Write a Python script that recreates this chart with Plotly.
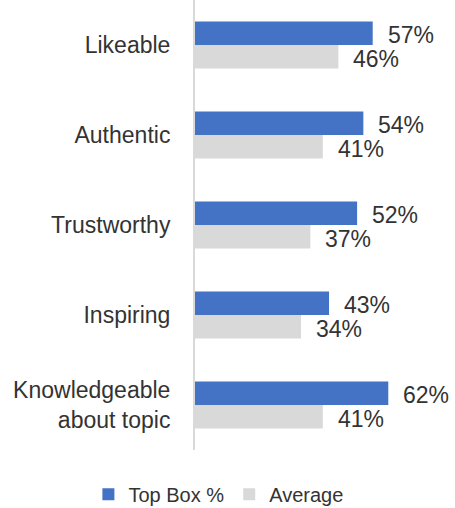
import plotly.graph_objects as go

categories = ["Likeable", "Authentic", "Trustworthy", "Inspiring", "Knowledgeable<br>about topic"]
top_box = [57, 54, 52, 43, 62]
average = [46, 41, 37, 34, 41]
series_names = ["Top Box %", "Average"]
colors = ["#4472C4", "#D9D9D9"]
text_color = "#333333"
font_family = "Liberation Sans, Arial, sans-serif"

fig = go.Figure()
for name, vals, col in zip(series_names, [top_box, average], colors):
    fig.add_trace(go.Bar(
        y=categories, x=vals, name=name, orientation="h",
        marker=dict(color=col, line=dict(width=0)),
    ))

annotations = []
for vals, yshift in zip([top_box, average], [10, -14]):
    for c, v in zip(categories, vals):
        annotations.append(dict(
            x=v, y=c, xref="x", yref="y", text=f"{v}%",
            showarrow=False, xanchor="left", yanchor="middle",
            xshift=13, yshift=yshift,
            font=dict(size=23, color=text_color, family=font_family),
        ))

fig.update_layout(
    width=455, height=508,
    margin=dict(l=195, r=0, t=0, b=58, autoexpand=False),
    paper_bgcolor="white", plot_bgcolor="white",
    barmode="group", bargap=0.48, bargroupgap=0,
    showlegend=True,
    legend=dict(orientation="h", x=0.09, xanchor="center",
                y=-0.055, yanchor="top",
                font=dict(size=20, color=text_color, family=font_family),
                itemwidth=30, traceorder="normal"),
    annotations=annotations,
    xaxis=dict(range=[0, 83.4], showgrid=False, zeroline=False, showticklabels=False,
               showline=False, fixedrange=True),
    yaxis=dict(autorange="reversed", showgrid=False, zeroline=False,
               showline=True, linecolor="#D9D9D9", linewidth=2,
               ticks="", ticklabelstandoff=18,
               tickfont=dict(size=23, color=text_color, family=font_family)),
    font=dict(family=font_family, color=text_color),
)

fig.write_html("out.html")
